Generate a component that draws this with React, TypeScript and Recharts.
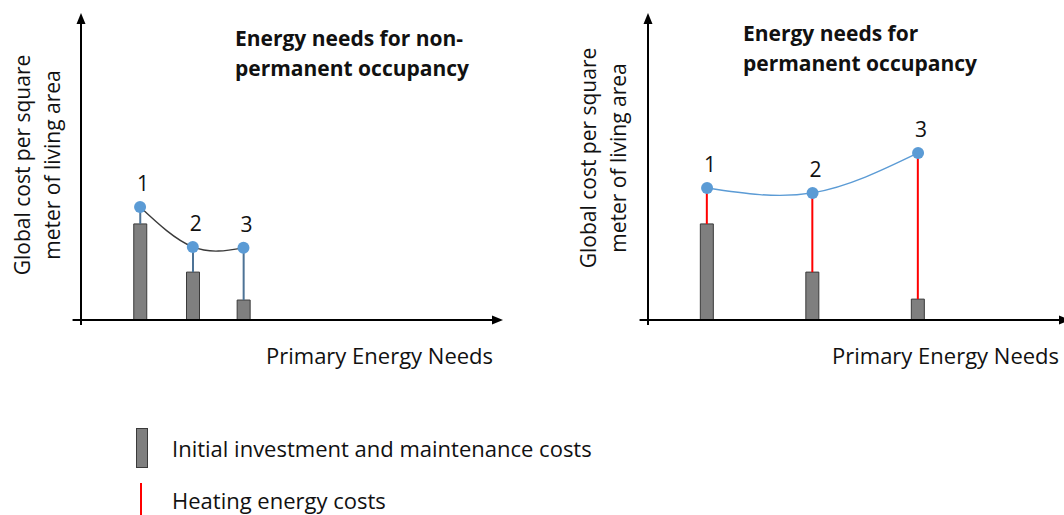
import React from 'react';
import { ComposedChart, Bar, Line, XAxis, YAxis, ReferenceLine, ReferenceDot, LabelList } from 'recharts';

const FONT = '"Open Sans", sans-serif';

// option labels
const options = ['1', '2', '3'];

// non-permanent occupancy
const nonPermEnergy = [14, 26.5, 38.5];
const nonPermInvest = [31.3, 15.6, 6.5];
const nonPermTotal = [36.8, 23.8, 23.5];

// permanent occupancy
const permEnergy = [14, 39, 64];
const permInvest = [31.3, 15.6, 6.8];
const permTotal = [43, 41.4, 54.4];

const buildRows = (energy: number[], invest: number[], total: number[]) =>
  options.map((name, i) => ({
    name,
    energy: energy[i],
    invest: invest[i],
    heating: +(total[i] - invest[i]).toFixed(2),
    total: total[i],
  }));

const stemShape = (color: string) => (props: any) => {
  const { x, y, width, height } = props;
  const cx = x + width / 2;
  return <line x1={cx} x2={cx} y1={y} y2={y + height} stroke={color} strokeWidth={2} />;
};

const rightArrow = (props: any) => {
  const { cx, cy } = props;
  return <polygon points={`${cx},${cy} ${cx - 11},${cy - 4.5} ${cx - 11},${cy + 4.5}`} fill="#000" />;
};

const upArrow = (props: any) => {
  const { cx, cy } = props;
  return <polygon points={`${cx},${cy} ${cx - 4.5},${cy + 11} ${cx + 4.5},${cy + 11}`} fill="#000" />;
};

const numberLabel = (props: any) => {
  const { x, y, value } = props;
  return (
    <text x={x + 3} y={y - 16} textAnchor="middle" fontSize={21} fontFamily={FONT} fill="#111">
      {value}
    </text>
  );
};

function CostChart({ rows, stemColor, lineColor, margin }: any) {
  return (
    <ComposedChart width={520} height={340} data={rows} margin={margin}>
      <XAxis type="number" dataKey="energy" domain={[0, 100]} hide allowDataOverflow />
      <YAxis type="number" domain={[0, 100]} hide allowDataOverflow />
      <ReferenceLine
        segment={[{ x: -2, y: 0 }, { x: 99, y: 0 }]}
        stroke="#000"
        strokeWidth={2}
        ifOverflow="visible"
      />
      <ReferenceLine
        segment={[{ x: 0, y: -1.6 }, { x: 0, y: 99 }]}
        stroke="#000"
        strokeWidth={2}
        ifOverflow="visible"
      />
      <ReferenceDot x={100} y={0} shape={rightArrow} ifOverflow="visible" />
      <ReferenceDot x={0} y={100} shape={upArrow} ifOverflow="visible" />
      <Bar
        dataKey="invest"
        stackId="a"
        barSize={13}
        fill="#7f7f7f"
        stroke="#3a3a3a"
        strokeWidth={1}
        isAnimationActive={false}
      />
      <Bar
        dataKey="heating"
        stackId="a"
        barSize={13}
        shape={stemShape(stemColor)}
        isAnimationActive={false}
      />
      <Line
        dataKey="total"
        type="natural"
        stroke={lineColor}
        strokeWidth={1.4}
        dot={{ r: 6, fill: '#5b9bd5', stroke: 'none' }}
        isAnimationActive={false}
      >
        <LabelList dataKey="name" content={numberLabel} />
      </Line>
    </ComposedChart>
  );
}

const abs = (left: number, top: number): React.CSSProperties => ({
  position: 'absolute',
  left,
  top,
  fontFamily: FONT,
  color: '#111',
  whiteSpace: 'nowrap',
});

function YLabel({ cx, cy }: { cx: number; cy: number }) {
  return (
    <div
      style={{
        ...abs(cx, cy),
        fontSize: 21,
        lineHeight: '30px',
        textAlign: 'center',
        transform: 'translate(-50%, -50%) rotate(-90deg)',
      }}
    >
      Global cost per square
      <br />
      meter of living area
    </div>
  );
}

export default function App() {
  const nonPermRows = buildRows(nonPermEnergy, nonPermInvest, nonPermTotal);
  const permRows = buildRows(permEnergy, permInvest, permTotal);

  return (
    <div
      style={{
        position: 'fixed',
        left: 0,
        top: 0,
        width: 1064,
        height: 515,
        overflow: 'hidden',
        background: '#fff',
      }}
    >
      <div style={{ position: 'absolute', left: 0, top: 0 }}>
        <CostChart
          rows={nonPermRows}
          stemColor="#4d7396"
          lineColor="#3a3a3a"
          margin={{ top: 13, left: 81, right: 17, bottom: 20 }}
        />
      </div>
      <div style={{ position: 'absolute', left: 560, top: 0 }}>
        <CostChart
          rows={permRows}
          stemColor="#ff0000"
          lineColor="#5b9bd5"
          margin={{ top: 13, left: 88, right: 10, bottom: 20 }}
        />
      </div>

      <div style={{ ...abs(235, 23), fontSize: 21, fontWeight: 700, lineHeight: '30px' }}>
        Energy needs for non-
        <br />
        permanent occupancy
      </div>
      <div style={{ ...abs(743, 18), fontSize: 21, fontWeight: 700, lineHeight: '30px' }}>
        Energy needs for
        <br />
        permanent occupancy
      </div>

      <YLabel cx={37} cy={165} />
      <YLabel cx={603} cy={158} />

      <div style={{ ...abs(266, 340), fontSize: 22, lineHeight: '30px' }}>Primary Energy Needs</div>
      <div style={{ ...abs(832, 340), fontSize: 22, lineHeight: '30px' }}>Primary Energy Needs</div>

      <svg style={{ position: 'absolute', left: 130, top: 420 }} width={30} height={100}>
        <rect x={6.5} y={8.5} width={11} height={39} fill="#7f7f7f" stroke="#3a3a3a" strokeWidth={1} />
        <line x1={11} x2={11} y1={63} y2={100} stroke="#ff0000" strokeWidth={2} />
      </svg>
      <div style={{ ...abs(172, 433), fontSize: 22, lineHeight: '30px' }}>
        Initial investment and maintenance costs
      </div>
      <div style={{ ...abs(172, 485), fontSize: 22, lineHeight: '30px' }}>Heating energy costs</div>
    </div>
  );
}
